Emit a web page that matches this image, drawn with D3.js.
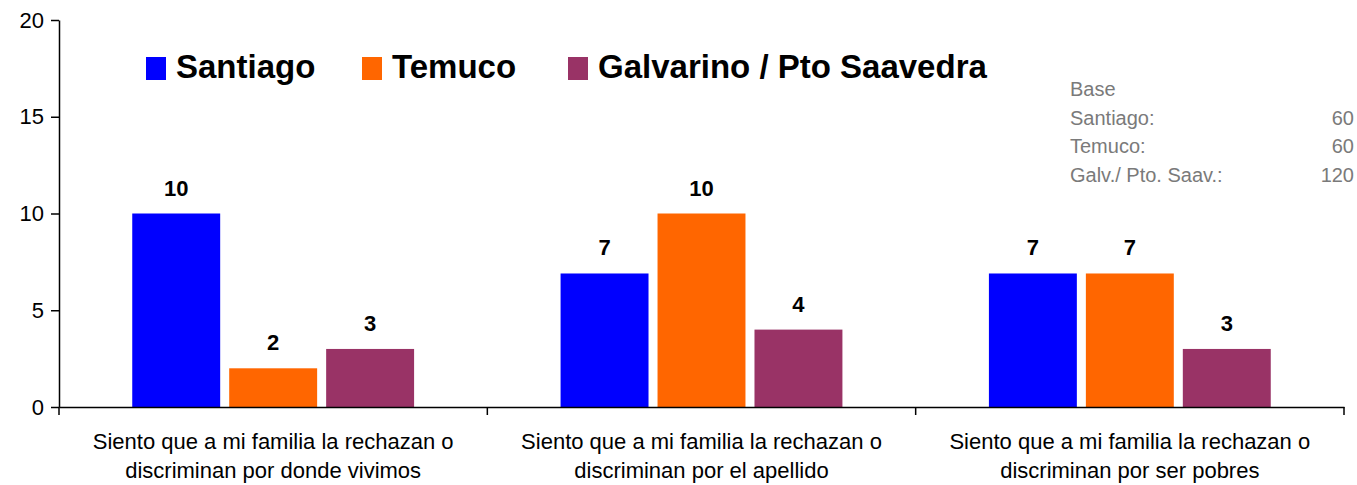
<!DOCTYPE html>
<html>
<head>
<meta charset="utf-8">
<script src="https://cdn.jsdelivr.net/npm/d3@7"></script>
<style>
  html, body { margin: 0; padding: 0; background: #fff; }
  svg { display: block; font-family: "Liberation Sans", Arial, sans-serif; }
</style>
</head>
<body>
<svg id="chart" width="1357" height="485"></svg>
<script>
const categories = [
  ["Siento que a mi familia la rechazan o", "discriminan por donde vivimos"],
  ["Siento que a mi familia la rechazan o", "discriminan por el apellido"],
  ["Siento que a mi familia la rechazan o", "discriminan por ser pobres"]
];
const seriesNames = ["Santiago", "Temuco", "Galvarino / Pto Saavedra"];
const santiago = [10, 6.9, 6.9];
const temuco = [2, 10, 6.9];
const galvarino = [3, 4, 3];
const seriesValues = [santiago, temuco, galvarino];
const colors = ["#0000FF", "#FF6600", "#993366"];
const yTicks = [0, 5, 10, 15, 20];
const baseLabels = ["Santiago:", "Temuco:", "Galv./ Pto. Saav.:"];
const baseValues = [60, 60, 120];

const svg = d3.select("#chart");
const plotLeft = 59, plotRight = 1344, plotTop = 20, plotBottom = 407;

const x0 = d3.scaleBand().domain(d3.range(categories.length))
  .range([plotLeft, plotRight]).paddingInner(0.342).paddingOuter(0.171);
const x1 = d3.scaleBand().domain(d3.range(seriesNames.length))
  .range([0, x0.bandwidth()]).paddingInner(0.093).paddingOuter(0);
const y = d3.scaleLinear().domain([0, 20]).range([plotBottom, plotTop]);

// Bars
const groups = svg.append("g").selectAll("g")
  .data(categories.map((c, i) => i))
  .join("g")
  .attr("transform", i => `translate(${x0(i)},0)`);

groups.selectAll("rect")
  .data(i => seriesValues.map((vals, s) => ({ s, v: vals[i] })))
  .join("rect")
  .attr("x", d => x1(d.s))
  .attr("width", x1.bandwidth())
  .attr("y", d => y(d.v))
  .attr("height", d => y(0) - y(d.v))
  .attr("fill", d => colors[d.s]);

groups.selectAll("text.val")
  .data(i => seriesValues.map((vals, s) => ({ s, v: vals[i] })))
  .join("text")
  .attr("class", "val")
  .attr("x", d => x1(d.s) + x1.bandwidth() / 2)
  .attr("y", d => y(d.v) - 18)
  .attr("text-anchor", "middle")
  .attr("font-size", 22)
  .attr("font-weight", "bold")
  .attr("fill", "#000")
  .text(d => d3.format(".0f")(d.v));

// Y axis
const yAxis = svg.append("g")
  .attr("transform", `translate(${plotLeft},0)`)
  .call(d3.axisLeft(y).tickValues(yTicks).tickSize(8).tickSizeOuter(0).tickPadding(7));
yAxis.select(".domain").attr("stroke", "#000").attr("stroke-width", 1.5);
yAxis.selectAll(".tick line").attr("stroke", "#000").attr("stroke-width", 1.5);
yAxis.selectAll(".tick text").attr("font-size", 22).attr("fill", "#000")
  .attr("font-family", "'Liberation Sans', Arial, sans-serif");

// X axis
const xAxis = svg.append("g")
  .attr("transform", `translate(0,${plotBottom})`)
  .call(d3.axisBottom(x0).tickSize(0).tickSizeOuter(0).tickFormat(""));
xAxis.select(".domain").attr("stroke", "#000").attr("stroke-width", 1.5);
const boundaries = categories.map((c, i) => x0(i) - x0.step() * x0.paddingOuter()).concat([plotRight]);
xAxis.selectAll("line.bound").data(boundaries).join("line")
  .attr("class", "bound")
  .attr("x1", d => d).attr("x2", d => d)
  .attr("y1", 0).attr("y2", 8)
  .attr("stroke", "#000").attr("stroke-width", 1.5);

// Category labels
const catText = svg.append("g").selectAll("text")
  .data(categories)
  .join("text")
  .attr("text-anchor", "middle")
  .attr("font-size", 22)
  .attr("fill", "#000");
catText.each(function(lines, i) {
  const cx = x0(i) + x0.bandwidth() / 2;
  d3.select(this).selectAll("tspan").data(lines).join("tspan")
    .attr("x", cx)
    .attr("y", (d, j) => 449 + j * 29)
    .text(d => d);
});

// Legend
const legendX = [146, 362, 568];
const legend = svg.append("g").selectAll("g")
  .data(seriesNames)
  .join("g")
  .attr("transform", (d, i) => `translate(${legendX[i]},0)`);
legend.append("rect")
  .attr("x", 0).attr("y", 57).attr("width", 20).attr("height", 23)
  .attr("fill", (d, i) => colors[i]);
legend.append("text")
  .attr("x", 30).attr("y", 78)
  .attr("font-size", 33).attr("font-weight", "bold").attr("fill", "#000")
  .text(d => d);

// Base box
const baseG = svg.append("g").attr("fill", "#7a7a7a").attr("font-size", 20);
baseG.append("text").attr("x", 1070).attr("y", 96).text("Base");
baseG.selectAll("text.bl").data(baseLabels).join("text")
  .attr("class", "bl")
  .attr("x", 1070).attr("y", (d, i) => 124.5 + i * 28.5)
  .text(d => d);
baseG.selectAll("text.bv").data(baseValues).join("text")
  .attr("class", "bv")
  .attr("x", 1354).attr("y", (d, i) => 124.5 + i * 28.5)
  .attr("text-anchor", "end")
  .text(d => d);
</script>
</body>
</html>
